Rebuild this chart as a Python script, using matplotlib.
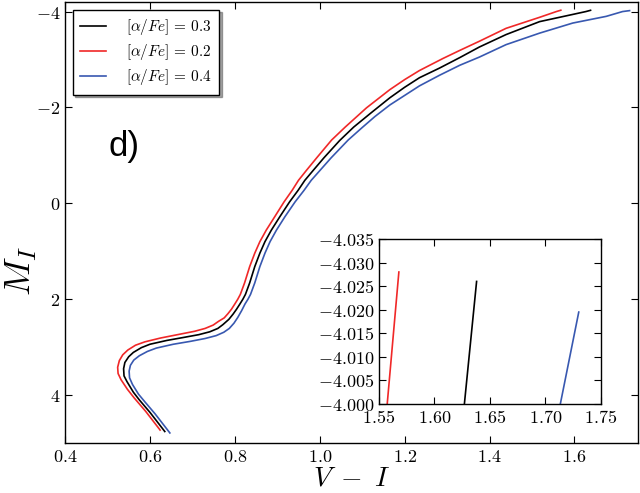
import matplotlib

matplotlib.use("Agg")
import matplotlib.pyplot as plt
from matplotlib.ticker import FixedLocator, FuncFormatter

plt.rcParams["mathtext.fontset"] = "cm"

# isochrone tracks (V-I, M_I)
vi_03 = [0.635, 0.600, 0.575, 0.561, 0.546, 0.539, 0.538, 0.541, 0.550, 0.561,
         0.580, 0.600, 0.640, 0.678, 0.715, 0.741, 0.760, 0.772, 0.786, 0.796,
         0.804, 0.812, 0.819, 0.825, 0.830, 0.835, 0.841, 0.847, 0.853, 0.859,
         0.871, 0.886, 0.906, 0.929, 0.949, 0.965, 0.984, 1.010, 1.047, 1.080,
         1.120, 1.165, 1.200, 1.235, 1.282, 1.330, 1.376, 1.439, 1.518, 1.596,
         1.627, 1.638]
mi_03 = [4.76, 4.36, 4.10, 3.94, 3.72, 3.60, 3.45, 3.32, 3.20, 3.11,
         3.01, 2.94, 2.86, 2.80, 2.74, 2.68, 2.61, 2.53, 2.42, 2.31,
         2.21, 2.10, 2.00, 1.90, 1.78, 1.66, 1.49, 1.32, 1.18, 1.04,
         0.80, 0.56, 0.28, -0.03, -0.27, -0.48, -0.68, -0.95, -1.31, -1.59,
         -1.88, -2.20, -2.42, -2.62, -2.82, -3.04, -3.26, -3.52, -3.79, -3.94,
         -4.000, -4.026]

vi_02 = [0.624, 0.590, 0.563, 0.547, 0.532, 0.525, 0.524, 0.528, 0.536, 0.548,
         0.566, 0.588, 0.625, 0.665, 0.705, 0.730, 0.749, 0.762, 0.775, 0.784,
         0.792, 0.800, 0.807, 0.813, 0.818, 0.823, 0.829, 0.835, 0.841, 0.847,
         0.859, 0.874, 0.894, 0.916, 0.935, 0.950, 0.968, 0.993, 1.028, 1.060,
         1.110, 1.165, 1.200, 1.235, 1.290, 1.330, 1.376, 1.439, 1.518, 1.5575,
         1.568]
mi_02 = [4.73, 4.34, 4.06, 3.88, 3.68, 3.55, 3.42, 3.28, 3.16, 3.06,
         2.96, 2.89, 2.81, 2.74, 2.67, 2.61, 2.54, 2.46, 2.39, 2.30,
         2.21, 2.10, 2.00, 1.90, 1.78, 1.66, 1.49, 1.32, 1.18, 1.04,
         0.80, 0.56, 0.28, -0.03, -0.27, -0.48, -0.68, -0.95, -1.32, -1.59,
         -1.99, -2.37, -2.58, -2.77, -3.02, -3.19, -3.38, -3.65, -3.88, -4.000,
         -4.028]

vi_04 = [0.647, 0.612, 0.588, 0.573, 0.559, 0.552, 0.551, 0.554, 0.562, 0.575,
         0.594, 0.615, 0.655, 0.695, 0.730, 0.756, 0.774, 0.787, 0.798, 0.807,
         0.816, 0.824, 0.831, 0.837, 0.842, 0.847, 0.853, 0.859, 0.865, 0.871,
         0.883, 0.898, 0.918, 0.942, 0.963, 0.980, 1.000, 1.027, 1.067, 1.100,
         1.130, 1.165, 1.200, 1.235, 1.282, 1.330, 1.376, 1.439, 1.518, 1.596,
         1.675, 1.7134, 1.730]
mi_04 = [4.79, 4.39, 4.14, 3.98, 3.78, 3.64, 3.50, 3.38, 3.27, 3.18,
         3.09, 3.02, 2.94, 2.88, 2.82, 2.76, 2.69, 2.61, 2.50, 2.38,
         2.24, 2.10, 2.00, 1.90, 1.78, 1.66, 1.49, 1.32, 1.18, 1.04,
         0.80, 0.56, 0.28, -0.03, -0.27, -0.48, -0.68, -0.95, -1.32, -1.58,
         -1.81, -2.05, -2.25, -2.45, -2.67, -2.88, -3.05, -3.31, -3.55, -3.76,
         -3.90, -4.000, -4.0195]

labels = [r"$[\alpha/Fe]\,=\,0.3$", r"$[\alpha/Fe]\,=\,0.2$", r"$[\alpha/Fe]\,=\,0.4$"]
colors = ["black", "#f02828", "#3858b0"]

main_xticks = [0.4, 0.6, 0.8, 1.0, 1.2, 1.4, 1.6]
main_yticks = [-4, -2, 0, 2, 4]
inset_xticks = [1.55, 1.60, 1.65, 1.70, 1.75]
inset_yticks = [-4.000, -4.005, -4.010, -4.015, -4.020, -4.025, -4.030, -4.035]


def math_fmt(decimals):
    # tick labels drawn with mathtext so they come out in Computer Modern
    if decimals is None:
        return FuncFormatter(lambda v, _: f"${v:g}$")
    return FuncFormatter(lambda v, _: f"${v:.{decimals}f}$")


def style_axes(ax, size):
    ax.tick_params(direction="in", top=True, right=True, labelsize=size,
                   length=5, width=0.8)
    for spine in ax.spines.values():
        spine.set_linewidth(1.0)


fig = plt.figure(figsize=(6.4, 4.93), dpi=100)
ax = fig.add_axes([0.1016, 0.1014, 0.8954, 0.8946])

series = [(vi_03, mi_03), (vi_02, mi_02), (vi_04, mi_04)]
for (x, y), lab, col in zip(series, labels, colors):
    ax.plot(x, y, color=col, lw=1.2, label=lab)

ax.set_xlim(0.4, 1.75)
ax.set_ylim(5, -4.2)
ax.xaxis.set_major_locator(FixedLocator(main_xticks))
ax.yaxis.set_major_locator(FixedLocator(main_yticks))
ax.xaxis.set_major_formatter(math_fmt(1))
ax.yaxis.set_major_formatter(math_fmt(None))
style_axes(ax, 13)
ax.set_xlabel(r"$V\;-\;I$", fontsize=20, va="baseline")
ax.xaxis.set_label_coords(0.5, -0.096)
ax.set_ylabel(r"$M_I$", fontsize=26)
ax.yaxis.set_label_coords(-0.046, 0.39)

ax.text(0.075, 0.71, "d)", transform=ax.transAxes, fontsize=25,
        family="Liberation Sans", va="top")

leg = ax.legend(loc="upper left", fontsize=11, shadow=True, fancybox=False,
                framealpha=1, edgecolor="black", handlelength=1.7,
                handletextpad=1.3, borderpad=0.5, borderaxespad=0.5,
                labelspacing=0.32)
leg.get_frame().set_linewidth(1.0)

# inset zoomed on the tips of the tracks
axin = fig.add_axes([0.592, 0.1805, 0.347, 0.3347])
for (x, y), col in zip(series, colors):
    axin.plot(x, y, color=col, lw=1.2)
axin.set_xlim(1.55, 1.75)
axin.set_ylim(-4.000, -4.035)
axin.xaxis.set_major_locator(FixedLocator(inset_xticks))
axin.yaxis.set_major_locator(FixedLocator(inset_yticks))
axin.xaxis.set_major_formatter(math_fmt(2))
axin.yaxis.set_major_formatter(math_fmt(3))
style_axes(axin, 13)

fig.savefig("out.png", dpi=100)
